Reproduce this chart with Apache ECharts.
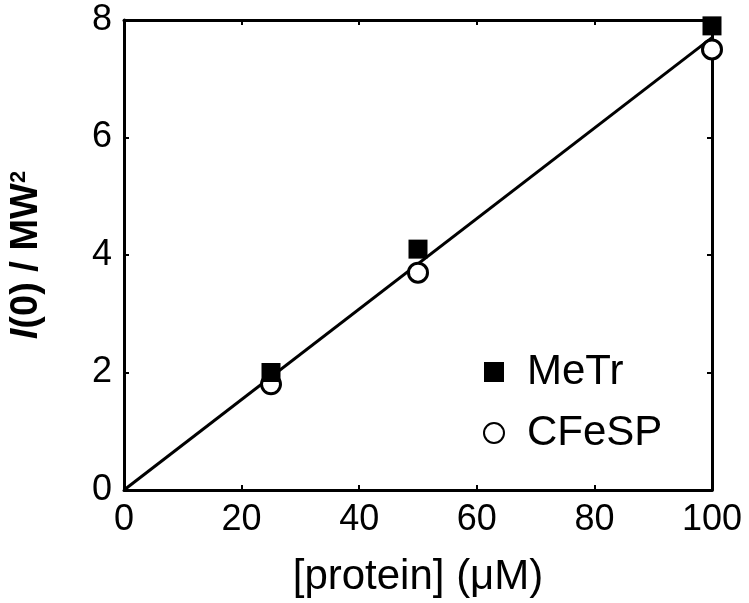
<!DOCTYPE html>
<html>
<head>
<meta charset="utf-8">
<script src="https://cdn.jsdelivr.net/npm/echarts@6/dist/echarts.min.js"></script>
<style>html,body{margin:0;padding:0;background:#fff}#c{width:749px;height:603px}</style>
</head>
<body>
<div id="c"></div>
<script>
var xTicks = [0, 20, 40, 60, 80, 100];
var yTicks = [0, 2, 4, 6, 8];
var proteinConc = [25, 50, 100];
var metrValues = [2.0, 4.1, 7.9];
var cfespValues = [1.8, 3.7, 7.5];
var fitX = [0, 100];
var fitY = [0, 7.7];

var FONT = 'Liberation Sans';
var chart = echarts.init(document.getElementById('c'));
function pairs(xs, ys){ return xs.map(function(x,i){ return [x, ys[i]]; }); }
var axisLine = {show:true, onZero:false, lineStyle:{color:'#000', width:3}};
var tick = {show:true, inside:true, length:5, lineStyle:{color:'#000', width:2}};
chart.setOption({
  animation:false,
  backgroundColor:'#fff',
  grid:{left:113, right:37, top:20, bottom:107, containLabel:false},
  xAxis:[{
    type:'value', position:'bottom', min:xTicks[0], max:xTicks[xTicks.length-1], interval:20,
    axisLine:axisLine, axisTick:tick, splitLine:{show:false},
    axisLabel:{fontSize:36, fontFamily:FONT, color:'#000', margin:12},
    name:'[protein] (μM)', nameLocation:'middle', nameGap:66,
    nameTextStyle:{fontSize:42, fontFamily:FONT, color:'#000'}
  },{
    type:'value', position:'top', min:xTicks[0], max:xTicks[xTicks.length-1], interval:20,
    axisLine:axisLine, axisTick:tick, axisLabel:{show:false}, splitLine:{show:false}
  }],
  yAxis:[{
    type:'value', position:'left', min:yTicks[0], max:yTicks[yTicks.length-1], interval:2,
    axisLine:axisLine, axisTick:tick, splitLine:{show:false},
    axisLabel:{fontSize:36, fontFamily:FONT, color:'#000', margin:12},
    name:'{i|I}(0) / MW{s|2}', nameLocation:'middle', nameGap:78,
    nameTextStyle:{fontSize:38, fontFamily:FONT, fontWeight:'bold', color:'#000',
      rich:{i:{fontSize:38, fontFamily:FONT, fontWeight:'bold', fontStyle:'italic', color:'#000'},
            s:{fontSize:22, fontFamily:FONT, fontWeight:'bold', color:'#000', verticalAlign:'top'}}}
  },{
    type:'value', position:'right', min:yTicks[0], max:yTicks[yTicks.length-1], interval:2,
    axisLine:axisLine, axisTick:tick, axisLabel:{show:false}, splitLine:{show:false}
  }],
  legend:{
    orient:'vertical', left:478, top:346, itemWidth:20, itemHeight:20, itemGap:19,
    data:['MeTr','CFeSP'],
    textStyle:{fontSize:42, fontFamily:FONT, color:'#000', padding:[0,0,0,18]}
  },
  series:[{
    name:'fit', type:'line', data:pairs(fitX, fitY), symbol:'none',
    lineStyle:{color:'#000', width:3}, z:1, silent:true
  },{
    name:'CFeSP', type:'scatter', data:pairs(proteinConc, cfespValues), symbol:'circle', symbolSize:19,
    itemStyle:{color:'#fff', borderColor:'#000', borderWidth:3, opacity:1}, z:3
  },{
    name:'MeTr', type:'scatter', data:pairs(proteinConc, metrValues), symbol:'rect', symbolSize:19,
    itemStyle:{color:'#000', opacity:1}, z:4
  }]
});
</script>
</body>
</html>
